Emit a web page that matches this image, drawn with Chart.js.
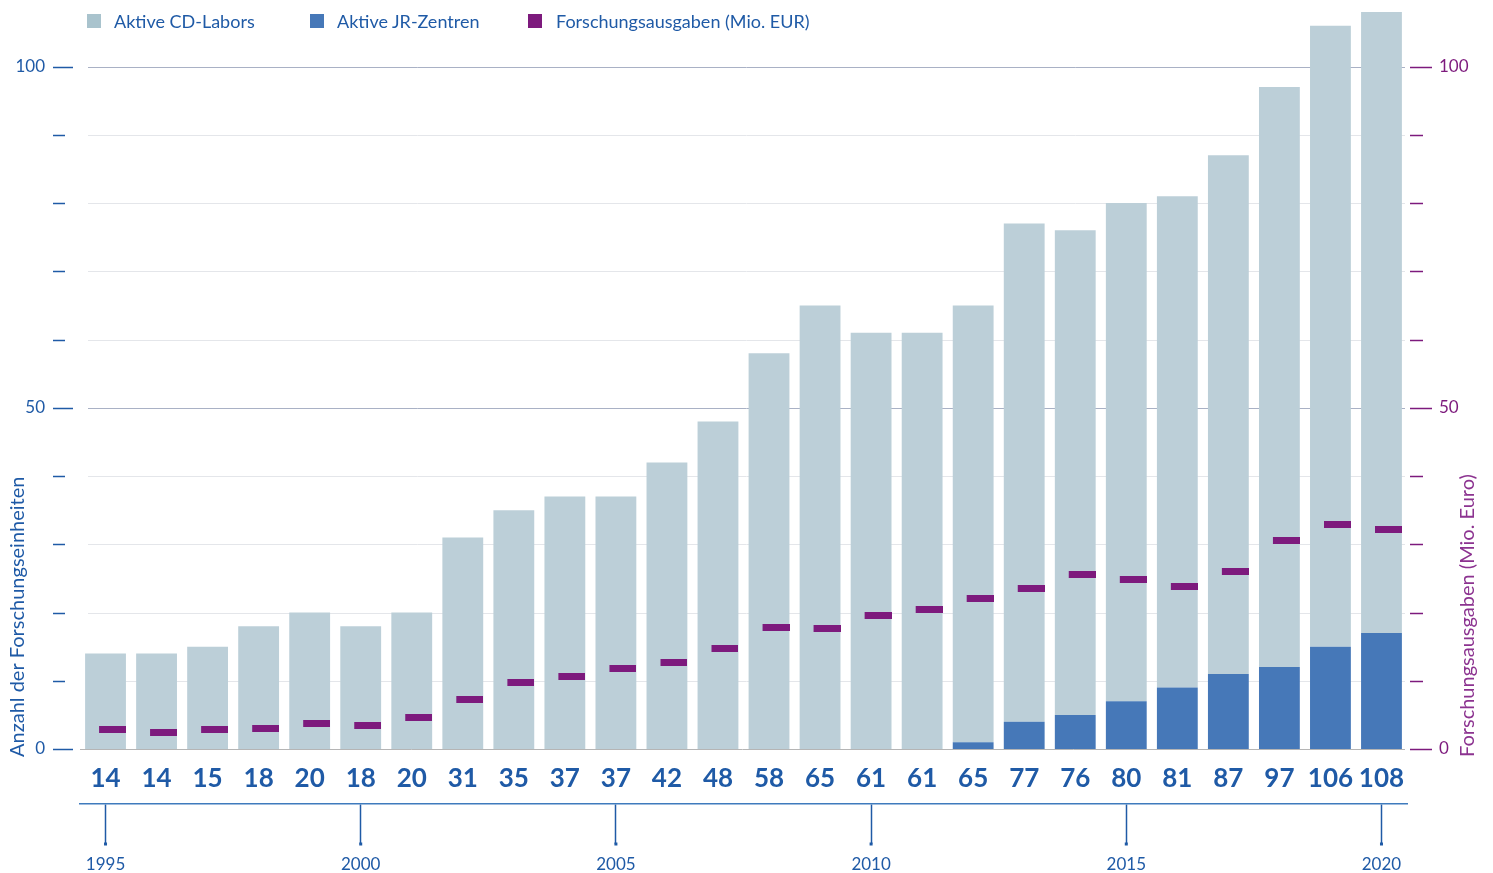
<!DOCTYPE html>
<html>
<head>
<meta charset="utf-8">
<script src="https://cdn.jsdelivr.net/npm/chart.js@4.4.1/dist/chart.umd.min.js"></script>
<style>
  html, body { margin: 0; padding: 0; background: #fff; }
  #wrap { position: relative; width: 1493px; height: 873px; }
  .lg-box { position: absolute; top: 14px; width: 14px; height: 14px; }
  .lg-text { position: absolute; top: 10px; font: 18px Lato, sans-serif; color: #1f5aa6; white-space: nowrap; }
</style>
</head>
<body>
<div id="wrap">
  <canvas id="chart" width="1493" height="873"></canvas>
  <div class="lg-box" style="left:87px;background:#a9c3cd"></div>
  <div class="lg-text" style="left:114px">Aktive CD-Labors</div>
  <div class="lg-box" style="left:310px;background:#4678b8"></div>
  <div class="lg-text" style="left:337px">Aktive JR-Zentren</div>
  <div class="lg-box" style="left:528px;background:#7d1a7d"></div>
  <div class="lg-text" style="left:556px">Forschungsausgaben (Mio. EUR)</div>
</div>
<script>
// data
const years = [1995, 1996, 1997, 1998, 1999, 2000, 2001, 2002, 2003, 2004, 2005, 2006, 2007,
               2008, 2009, 2010, 2011, 2012, 2013, 2014, 2015, 2016, 2017, 2018, 2019, 2020];
const cdLabors = [14, 14, 15, 18, 20, 18, 20, 31, 35, 37, 37, 42, 48,
                  58, 65, 61, 61, 64, 73, 71, 73, 72, 76, 85, 91, 91];
const jrZentren = [0, 0, 0, 0, 0, 0, 0, 0, 0, 0, 0, 0, 0,
                   0, 0, 0, 0, 1, 4, 5, 7, 9, 11, 12, 15, 17];
const ausgaben = [2.9, 2.4, 2.9, 3.0, 3.8, 3.5, 4.6, 7.2, 9.8, 10.6, 11.8, 12.7, 14.7,
                  17.8, 17.7, 19.6, 20.4, 22.0, 23.5, 25.5, 24.8, 23.8, 26.0, 30.5, 32.9, 32.1];
const axisLabels = [0, 50, 100];

const totals = cdLabors.map((v, i) => v + jrZentren[i]);

const BLUE = '#1f5aa6';
const PURPLE = '#7d1a7d';
const FONT = 'Lato, sans-serif';

// dash marker, sits on the right part of each bar
const dash = document.createElement('canvas');
dash.width = 41; dash.height = 7;
const dctx = dash.getContext('2d');
dctx.fillStyle = PURPLE;
dctx.fillRect(14, 0, 27, 7);

// grid lines, tick marks and axis titles
const decor = {
    id: 'decor',
    beforeDatasetsDraw(chart) {
        const { ctx, scales: { y } } = chart;
        ctx.save();
        for (let v = 0; v <= 100; v += 10) {
            const py = Math.round(y.getPixelForValue(v)) + 0.5;
            ctx.strokeStyle = v === 0 ? '#b5b5b5' : (v % 50 === 0 ? '#a9b1c5' : '#e4e6ea');
            ctx.lineWidth = 1;
            ctx.beginPath();
            ctx.moveTo(v === 0 ? 80 : 88, py);
            ctx.lineTo(1405, py);
            ctx.stroke();
        }
        ctx.restore();
    },
    afterDraw(chart) {
        const { ctx, scales: { y, y1, x2 } } = chart;
        ctx.save();
        ctx.lineWidth = 1.5;
        for (let v = 0; v <= 100; v += 10) {
            const major = v % 50 === 0;
            const py = Math.round(y.getPixelForValue(v)) + 0.5;
            ctx.strokeStyle = BLUE;
            ctx.beginPath();
            ctx.moveTo(53, py); ctx.lineTo(major ? 73 : 65, py);
            ctx.stroke();
            const py1 = Math.round(y1.getPixelForValue(v)) + 0.5;
            ctx.strokeStyle = PURPLE;
            ctx.beginPath();
            ctx.moveTo(1410, py1); ctx.lineTo(major ? 1432 : 1423, py1);
            ctx.stroke();
        }
        // small squares at the end of the year ticks
        ctx.fillStyle = BLUE;
        years.forEach((yr, i) => {
            if (yr % 5 === 0) {
                const px = x2.getPixelForTick(i);
                ctx.fillRect(px - 1.5, x2.top + 38.5, 3, 3);
            }
        });
        // axis titles
        ctx.font = '20px ' + FONT;
        ctx.textBaseline = 'middle';
        ctx.textAlign = 'left';
        ctx.save();
        ctx.translate(18, 757);
        ctx.rotate(-Math.PI / 2);
        ctx.fillStyle = BLUE;
        ctx.fillText('Anzahl der Forschungseinheiten', 0, 0);
        ctx.restore();
        ctx.save();
        ctx.translate(1468, 757);
        ctx.rotate(-Math.PI / 2);
        ctx.fillStyle = '#8c3390';
        ctx.fillText('Forschungsausgaben (Mio. Euro)', 0, 0);
        ctx.restore();
        ctx.restore();
    }
};

const noPad = s => { s.paddingTop = 0; s.paddingBottom = 0; };

new Chart(document.getElementById('chart'), {
    type: 'bar',
    data: {
        labels: years,
        datasets: [
            {
                type: 'line',
                label: 'Forschungsausgaben (Mio. EUR)',
                data: ausgaben,
                yAxisID: 'y1',
                showLine: false,
                pointStyle: dash,
                pointRadius: 4,
                order: 0
            },
            {
                label: 'Aktive JR-Zentren',
                data: jrZentren,
                backgroundColor: '#4678b8',
                barPercentage: 0.8,
                categoryPercentage: 1,
                order: 1
            },
            {
                label: 'Aktive CD-Labors',
                data: cdLabors,
                backgroundColor: '#bccfd8',
                barPercentage: 0.8,
                categoryPercentage: 1,
                order: 1
            }
        ]
    },
    options: {
        responsive: false,
        animation: false,
        events: [],
        layout: { padding: { top: 12, left: 0, right: 0, bottom: 0 } },
        plugins: {
            legend: { display: false },
            tooltip: { enabled: false }
        },
        scales: {
            x: {
                stacked: true,
                weight: 0,
                grid: { display: false },
                border: { display: false },
                ticks: {
                    autoSkip: false,
                    maxRotation: 0,
                    padding: 6,
                    color: BLUE,
                    font: { family: FONT, size: 26, weight: 'bold' },
                    callback: (v, i) => totals[i]
                },
                afterFit: s => { s.height = 55; }
            },
            x2: {
                type: 'category',
                position: 'bottom',
                weight: 2,
                offset: true,
                labels: years,
                grid: {
                    offset: false,
                    drawOnChartArea: false,
                    drawTicks: true,
                    tickLength: 40,
                    tickWidth: 1.5,
                    tickColor: c => (years[c.index] % 5 === 0 ? BLUE : 'rgba(0,0,0,0)')
                },
                border: { display: true, color: '#3f7bbd', width: 1.5 },
                ticks: {
                    autoSkip: false,
                    maxRotation: 0,
                    padding: 10,
                    color: BLUE,
                    font: { family: FONT, size: 17 },
                    callback: (v, i) => (years[i] % 5 === 0 ? years[i] : '')
                },
                afterFit: s => { s.height = 69; }
            },
            y: {
                stacked: true,
                min: 0,
                max: 108,
                position: 'left',
                grid: { display: false },
                border: { display: false },
                afterBuildTicks: s => { s.ticks = axisLabels.map(v => ({ value: v })); },
                ticks: {
                    padding: 27,
                    color: BLUE,
                    font: { family: FONT, size: 17 }
                },
                afterFit: s => { s.width = 80; noPad(s); }
            },
            y1: {
                min: 0,
                max: 108,
                position: 'right',
                grid: { display: false },
                border: { display: false },
                afterBuildTicks: s => { s.ticks = axisLabels.map(v => ({ value: v })); },
                ticks: {
                    padding: 24,
                    color: PURPLE,
                    font: { family: FONT, size: 17 }
                },
                afterFit: s => { s.width = 86; noPad(s); }
            }
        }
    },
    plugins: [decor]
});
</script>
</body>
</html>
